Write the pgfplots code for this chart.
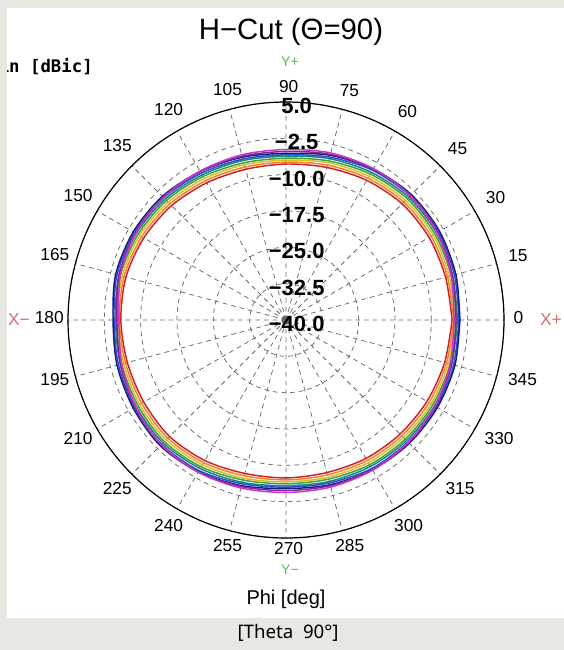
\documentclass[border=0pt]{standalone}
\usepackage{fontspec}
\setmainfont{Liberation Sans}
\newfontfamily\monofont{DejaVu Sans Mono}
\newfontfamily\capfont{Noto Sans}
\usepackage{pgfplots}
\pgfplotsset{compat=1.18}
\usepgfplotslibrary{polar}

\definecolor{bggray}{HTML}{E8E8E2}
\definecolor{axgreen}{HTML}{5CB85C}
\definecolor{axred}{HTML}{D87070}
\definecolor{gridc}{HTML}{666666}
\definecolor{cMag}{HTML}{CC33CC}
\definecolor{cPur}{HTML}{7B2D8E}
\definecolor{cNavy}{HTML}{1A1A80}
\definecolor{cBlue}{HTML}{2050D0}
\definecolor{cTeal}{HTML}{208080}
\definecolor{cGreen}{HTML}{40A040}
\definecolor{cYel}{HTML}{D8C020}
\definecolor{cOra}{HTML}{F08030}
\definecolor{cRed}{HTML}{D02020}

\begin{document}
\begin{tikzpicture}
% background, 1px = 0.75pt, y downwards
\begin{scope}[x=0.75pt,y=-0.75pt]
  \fill[bggray] (0,0) rectangle (564,650);
  \fill[white] (7,8) rectangle (564,618);
  \node[font=\fontsize{22}{22}\selectfont] at (291,32) {H−Cut (Θ=90)};
  \begin{scope}
    \clip (7,8) rectangle (564,618);
    \node[anchor=east, inner sep=0pt, font=\monofont\bfseries\fontsize{13}{13}\selectfont] at (93,67) {Gain [dBic]};
  \end{scope}
  \node[font=\fontsize{15}{15}\selectfont] at (286,599) {Phi [deg]};
  \node[font=\capfont\fontsize{14}{14}\selectfont] at (288,633) {[Theta\ \ 90°]};
\end{scope}

% radius = gain + 40 dB (centre is -40 dBic, outer ring is 5 dBic)
\begin{polaraxis}[
  at={(214.5pt,-240pt)}, anchor=center,
  scale only axis, width=327pt, height=327pt,
  clip=false,
  ymin=0, ymax=45,
  ytick={0,7.5,...,45},
  yticklabels={},
  xtick={0,15,...,345},
  xticklabel style={font=\fontsize{13}{13}\selectfont, inner sep=5pt, xshift=2pt, yshift=2pt},
  /pgf/number format/assume math mode=true,
  major tick length=0pt,
  grid=major,
  major grid style={dash pattern=on 3.5pt off 3pt, gridc, line width=0.55pt},
  axis line style={black, line width=0.9pt},
  y axis line style={draw=none},
  every axis plot/.append style={line width=1.1pt, smooth},
  y filter/.expression={y+40},
]
\addplot[cRed] coordinates {(0,-5.7) (15,-5.9) (30,-5.9) (45,-6.1) (60,-6.7) (75,-7.4) (90,-7.8) (105,-7.8) (120,-7.3) (135,-6.6) (150,-6.1) (165,-5.8) (180,-5.9) (195,-6.1) (210,-6.1) (225,-6.0) (240,-6.5) (255,-7.2) (270,-7.4) (285,-7.4) (300,-7.0) (315,-6.7) (330,-6.4) (345,-6.1) (360,-5.7)};
\addplot[cOra] coordinates {(0,-5.4) (15,-5.5) (30,-5.4) (45,-5.6) (60,-6.2) (75,-6.9) (90,-7.4) (105,-7.3) (120,-6.8) (135,-6.1) (150,-5.6) (165,-5.4) (180,-5.6) (195,-5.7) (210,-5.6) (225,-5.5) (240,-6.0) (255,-6.7) (270,-7.0) (285,-6.9) (300,-6.5) (315,-6.2) (330,-5.9) (345,-5.7) (360,-5.4)};
\addplot[cYel] coordinates {(0,-5.1) (15,-5.1) (30,-4.9) (45,-5.1) (60,-5.7) (75,-6.4) (90,-7.0) (105,-6.8) (120,-6.3) (135,-5.6) (150,-5.1) (165,-5.0) (180,-5.3) (195,-5.3) (210,-5.1) (225,-5.0) (240,-5.5) (255,-6.2) (270,-6.6) (285,-6.4) (300,-6.0) (315,-5.7) (330,-5.4) (345,-5.3) (360,-5.1)};
\addplot[cGreen] coordinates {(0,-4.8) (15,-4.7) (30,-4.5) (45,-4.6) (60,-5.2) (75,-6.0) (90,-6.6) (105,-6.4) (120,-5.8) (135,-5.1) (150,-4.7) (165,-4.6) (180,-5.0) (195,-4.9) (210,-4.7) (225,-4.5) (240,-5.0) (255,-5.8) (270,-6.2) (285,-6.0) (300,-5.5) (315,-5.2) (330,-5.0) (345,-4.9) (360,-4.8)};
\addplot[cTeal] coordinates {(0,-4.6) (15,-4.4) (30,-4.1) (45,-4.2) (60,-4.8) (75,-5.5) (90,-6.2) (105,-5.9) (120,-5.4) (135,-4.7) (150,-4.3) (165,-4.3) (180,-4.8) (195,-4.6) (210,-4.3) (225,-4.1) (240,-4.6) (255,-5.3) (270,-5.8) (285,-5.5) (300,-5.1) (315,-4.8) (330,-4.6) (345,-4.6) (360,-4.6)};
\addplot[cBlue] coordinates {(0,-4.3) (15,-4.0) (30,-3.7) (45,-3.8) (60,-4.3) (75,-5.2) (90,-5.9) (105,-5.6) (120,-5.0) (135,-4.3) (150,-3.9) (165,-3.9) (180,-4.5) (195,-4.2) (210,-3.9) (225,-3.7) (240,-4.1) (255,-5.0) (270,-5.5) (285,-5.2) (300,-4.6) (315,-4.4) (330,-4.2) (345,-4.2) (360,-4.3)};
\addplot[cNavy] coordinates {(0,-4.1) (15,-3.7) (30,-3.4) (45,-3.4) (60,-4.0) (75,-4.8) (90,-5.6) (105,-5.2) (120,-4.6) (135,-3.9) (150,-3.6) (165,-3.6) (180,-4.3) (195,-3.9) (210,-3.6) (225,-3.3) (240,-3.8) (255,-4.6) (270,-5.2) (285,-4.8) (300,-4.3) (315,-4.0) (330,-3.9) (345,-3.9) (360,-4.1)};
\addplot[cPur] coordinates {(0,-4.9) (15,-4.4) (30,-3.9) (45,-3.7) (60,-4.0) (75,-4.6) (90,-5.2) (105,-5.0) (120,-4.6) (135,-4.2) (150,-4.1) (165,-4.3) (180,-5.1) (195,-4.6) (210,-4.1) (225,-3.6) (240,-3.8) (255,-4.4) (270,-4.8) (285,-4.6) (300,-4.3) (315,-4.3) (330,-4.4) (345,-4.6) (360,-4.9)};
\addplot[cMag] coordinates {(0,-5.3) (15,-4.7) (30,-4.0) (45,-3.7) (60,-3.9) (75,-4.3) (90,-4.8) (105,-4.7) (120,-4.5) (135,-4.2) (150,-4.2) (165,-4.6) (180,-5.5) (195,-4.9) (210,-4.2) (225,-3.6) (240,-3.7) (255,-4.1) (270,-4.4) (285,-4.3) (300,-4.2) (315,-4.3) (330,-4.5) (345,-4.9) (360,-5.3)};
% radial scale labels along the 90 degree spoke (radius = gain + 40)
\begin{scope}[every node/.style={font=\bfseries\fontsize{16.5}{16.5}\selectfont, xshift=8pt, yshift=-3pt, inner sep=0pt}]
\node at (axis cs:90,45) {5.0};
\node at (axis cs:90,37.5) {−2.5};
\node at (axis cs:90,30) {−10.0};
\node at (axis cs:90,22.5) {−17.5};
\node at (axis cs:90,15) {−25.0};
\node at (axis cs:90,7.5) {−32.5};
\node at (axis cs:90,0) {−40.0};
\end{scope}
\end{polaraxis}

\begin{scope}[x=0.75pt,y=-0.75pt]
  \node[text=axgreen, font=\fontsize{10.5}{10.5}\selectfont] at (290,62) {Y+};
  \node[text=axgreen, font=\fontsize{10.5}{10.5}\selectfont] at (290,570) {Y−};
  \node[text=axred, font=\fontsize{13}{13}\selectfont] at (19,320) {X−};
  \node[text=axred, font=\fontsize{13}{13}\selectfont] at (551,320) {X+};
\end{scope}
\pgfresetboundingbox
\path[use as bounding box] (0,0) rectangle (423pt,-487.5pt);
\end{tikzpicture}
\end{document}
